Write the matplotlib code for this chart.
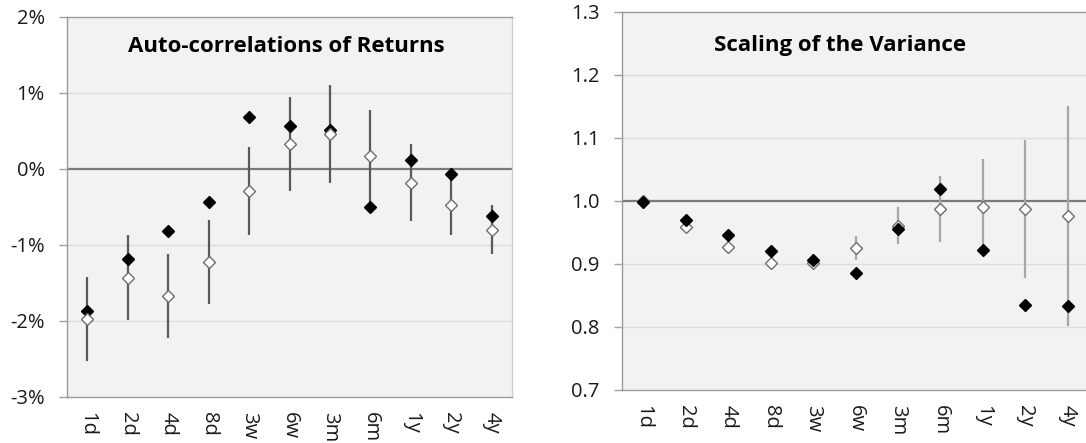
import matplotlib
matplotlib.use("Agg")
import matplotlib.pyplot as plt
import numpy as np

plt.rcParams['font.family'] = ['Open Sans', 'DejaVu Sans']

horizons = ["1d", "2d", "4d", "8d", "3w", "6w", "3m", "6m", "1y", "2y", "4y"]

# auto-correlations of returns, in %
ac_actual = [-1.87, -1.19, -0.81, -0.44, 0.68, 0.57, 0.51, -0.50, 0.12, -0.07, -0.62]
ac_model = [-1.97, -1.43, -1.67, -1.22, -0.29, 0.33, 0.46, 0.17, -0.18, -0.47, -0.80]
ac_err = [0.555, 0.56, 0.556, 0.55, 0.585, 0.62, 0.64, 0.60, 0.51, 0.40, 0.32]

# scaling of the variance
var_actual = [0.998, 0.970, 0.946, 0.920, 0.907, 0.886, 0.955, 1.019, 0.922, 0.835, 0.834]
var_model = [1.000, 0.959, 0.927, 0.902, 0.902, 0.926, 0.961, 0.987, 0.991, 0.987, 0.976]
var_err = [0.0, 0.005, 0.005, 0.004, 0.004, 0.019, 0.030, 0.052, 0.076, 0.110, 0.175]

ac_ticks = [-3, -2, -1, 0, 1, 2]
ac_ticklabels = ["-3%", "-2%", "-1%", "0%", "1%", "2%"]
var_ticks = [0.7, 0.8, 0.9, 1.0, 1.1, 1.2, 1.3]

W, H = 1086, 443
fig = plt.figure(figsize=(W / 100, H / 100), dpi=100)

ax1 = fig.add_axes([67 / W, 1 - 397 / H, 445 / W, 380 / H])
ax2 = fig.add_axes([622 / W, 1 - 390 / H, 467 / W, 378 / H])

x = np.arange(len(horizons)) + 0.5


def style_axes(ax, ticks, labels, ref):
    ax.set_facecolor("#f2f2f2")
    ax.set_xlim(0, len(horizons))
    ax.set_ylim(ticks[0], ticks[-1])
    ax.set_yticks(ticks)
    ax.set_yticklabels(labels)
    for t in ticks[1:-1]:
        if abs(t - ref) > 1e-9:
            ax.axhline(t, color="#dcdcdc", lw=1, zorder=1)
    ax.axhline(ref, color="#7a7a7a", lw=1.6, zorder=2)
    ax.set_xticks(x)
    ax.set_xticklabels(horizons, rotation=-90, va="top", ha="center")
    ax.tick_params(axis="x", length=0, pad=11, labelsize=14.5, colors="#1a1a1a")
    ax.tick_params(axis="y", length=6, width=1, color="#a0a0a0", pad=10,
                   labelsize=14.5, labelcolor="#1a1a1a")
    for side in ["left", "bottom", "top"]:
        ax.spines[side].set_color("#9a9a9a")
        ax.spines[side].set_linewidth(1)
    ax.spines["right"].set_color("#cfcfcf")
    ax.spines["right"].set_linewidth(1)


style_axes(ax1, ac_ticks, ac_ticklabels, 0)
style_axes(ax2, var_ticks, ["%.1f" % v for v in var_ticks], 1.0)

# left panel: error bars around model, model diamonds on top
ax1.errorbar(x, ac_model, yerr=ac_err, fmt="none", ecolor="#595959", elinewidth=1.6,
             capsize=0, zorder=3)
ax1.plot(x, ac_actual, "D", color="black", markersize=5.8, linestyle="none", zorder=4)
ax1.plot(x, ac_model, "D", markerfacecolor="white", markeredgecolor="#6e6e6e",
         markeredgewidth=1, markersize=6.6, linestyle="none", zorder=5)

# right panel
ax2.errorbar(x, var_model, yerr=var_err, fmt="none", ecolor="#a6a6a6", elinewidth=1.6,
             capsize=0, zorder=3)
ax2.plot(x, var_model, "D", markerfacecolor="white", markeredgecolor="#6e6e6e",
         markeredgewidth=1, markersize=6.6, linestyle="none", zorder=4)
ax2.plot(x, var_actual, "D", color="black", markersize=5.8, linestyle="none", zorder=5)

fig.text(286 / W, 1 - 47 / H, "Auto-correlations of Returns", fontsize=16,
         fontweight="bold", ha="center", va="center", color="black")
fig.text(840 / W, 1 - 45 / H, "Scaling of the Variance", fontsize=16,
         fontweight="bold", ha="center", va="center", color="black")

fig.savefig("out.png", dpi=100)
